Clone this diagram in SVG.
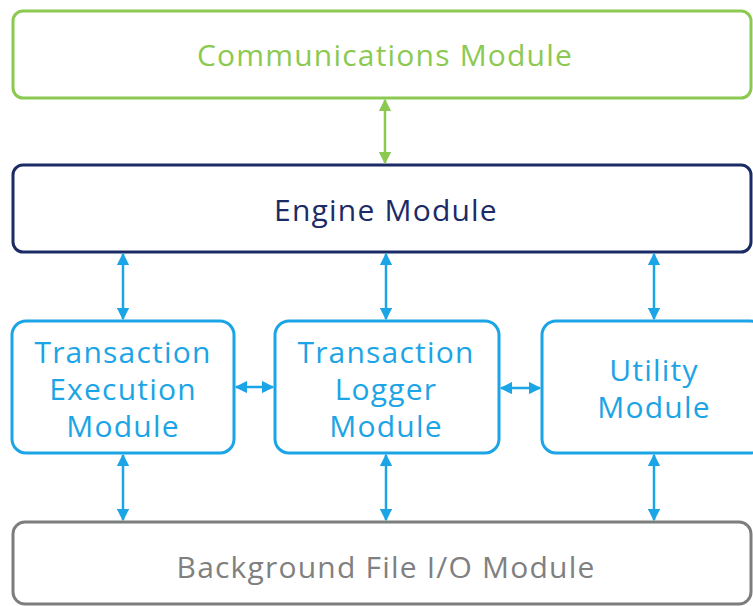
<svg xmlns="http://www.w3.org/2000/svg" width="753" height="606" viewBox="0 0 753 606">
<style>
text{font-family:"Open Sans","Liberation Sans",sans-serif;font-size:30px;letter-spacing:1.2px;text-anchor:middle;dominant-baseline:central}
.box{fill:#fff;stroke-width:3}
.blue{stroke:#1ba4e6}
.bt{fill:#1ba4e6}
.conn line{stroke-width:2.5}
</style>
<defs>
<marker id="ab" viewBox="0 0 10 10" refX="9" refY="5" markerWidth="5" markerHeight="5" orient="auto-start-reverse" markerUnits="strokeWidth"><path d="M0,0 L10,5 L0,10 z" fill="#1ba4e6"/></marker>
<marker id="ag" viewBox="0 0 10 10" refX="9" refY="5" markerWidth="5" markerHeight="5" orient="auto-start-reverse" markerUnits="strokeWidth"><path d="M0,0 L10,5 L0,10 z" fill="#8cc950"/></marker>
</defs>
<rect width="753" height="606" fill="#fff"/>
<g id="comm"><rect class="box" x="13" y="11" width="738" height="87" rx="10" stroke="#8cc950"/><text x="385" y="54" fill="#8cc950">Communications Module</text></g>
<g id="engine"><rect class="box" x="13" y="165" width="738" height="87" rx="10" stroke="#1b2b66"/><text x="386" y="209" fill="#1b2b66">Engine Module</text></g>
<g id="te"><rect class="box blue" x="12" y="321" width="222" height="132" rx="14"/><text class="bt" x="123" y="351">Transaction</text><text class="bt" x="123" y="388">Execution</text><text class="bt" x="123" y="425">Module</text></g>
<g id="tl"><rect class="box blue" x="275" y="321" width="224" height="132" rx="14"/><text class="bt" x="386" y="351">Transaction</text><text class="bt" x="386" y="388">Logger</text><text class="bt" x="386" y="425">Module</text></g>
<g id="util"><rect class="box blue" x="542" y="321" width="222" height="132" rx="14"/><text class="bt" x="654" y="369">Utility</text><text class="bt" x="654" y="406">Module</text></g>
<g id="bg"><rect class="box" x="13" y="522" width="738" height="82" rx="12" stroke="#7d7d7d"/><text x="386" y="566" fill="#808080">Background File I/O Module</text></g>
<g class="conn">
<line x1="385" y1="100" x2="385" y2="163" stroke="#8cc950" marker-start="url(#ag)" marker-end="url(#ag)"/>
<line x1="123" y1="254" x2="123" y2="319" stroke="#1ba4e6" marker-start="url(#ab)" marker-end="url(#ab)"/>
<line x1="386" y1="254" x2="386" y2="319" stroke="#1ba4e6" marker-start="url(#ab)" marker-end="url(#ab)"/>
<line x1="654" y1="254" x2="654" y2="319" stroke="#1ba4e6" marker-start="url(#ab)" marker-end="url(#ab)"/>
<line x1="236" y1="387" x2="273" y2="387" stroke="#1ba4e6" marker-start="url(#ab)" marker-end="url(#ab)"/>
<line x1="501" y1="388" x2="540" y2="388" stroke="#1ba4e6" marker-start="url(#ab)" marker-end="url(#ab)"/>
<line x1="123" y1="455" x2="123" y2="520" stroke="#1ba4e6" marker-start="url(#ab)" marker-end="url(#ab)"/>
<line x1="386" y1="455" x2="386" y2="520" stroke="#1ba4e6" marker-start="url(#ab)" marker-end="url(#ab)"/>
<line x1="654" y1="455" x2="654" y2="520" stroke="#1ba4e6" marker-start="url(#ab)" marker-end="url(#ab)"/>
</g>
</svg>
